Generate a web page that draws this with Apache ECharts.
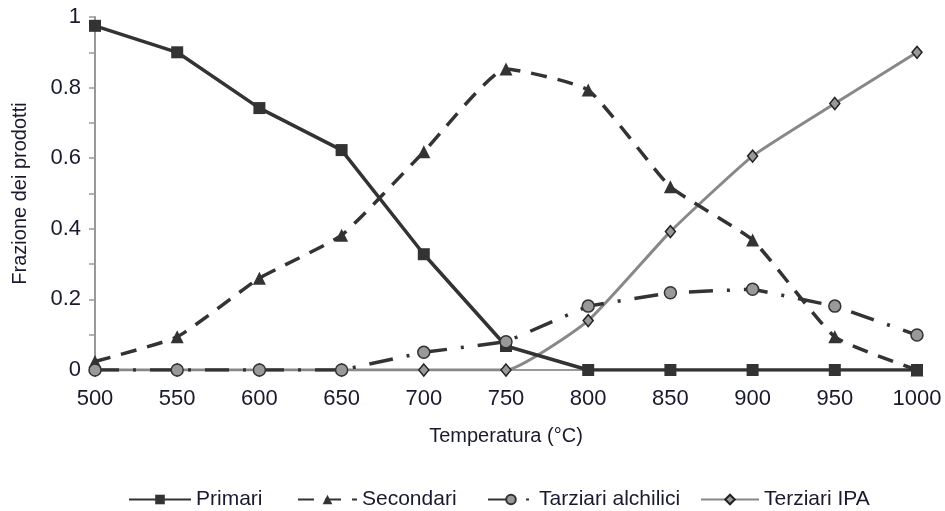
<!DOCTYPE html>
<html><head><meta charset="utf-8">
<script src="https://cdn.jsdelivr.net/npm/echarts@6/dist/echarts.min.js"></script>
<style>html,body{margin:0;padding:0;background:#fff}#c{width:945px;height:511px}</style>
</head><body><div id="c"></div>
<script>
const temps = [500,550,600,650,700,750,800,850,900,950,1000];
const primari = [0.975,0.9,0.742,0.623,0.328,0.068,0,0,0,0,0];
const secondari = [0.024,0.094,0.26,0.382,0.618,0.853,0.793,0.519,0.368,0.094,0];
const alchilici = [0,0,0,0,0.05,0.08,0.181,0.219,0.229,0.181,0.099];
const ipa = [0,0,0,0,0,0,0.14,0.392,0.606,0.755,0.9];
const seriesNames = ['Primari','Secondari','Tarziari alchilici','Terziari IPA'];

const pair = arr => temps.map((t,i)=>[t,arr[i]]);
const chart = echarts.init(document.getElementById('c'));
const font = 'Liberation Sans, Arial, sans-serif';
const lab = '#1a1a2e';
function leg(name,left,w){
  return {data:[name],left:left,top:489,itemWidth:w,itemHeight:12,padding:0,
    textStyle:{fontSize:21,color:lab,fontFamily:font}};
}
chart.setOption({
  animation:false,
  textStyle:{fontFamily:font},
  grid:{left:95,right:28,top:17,bottom:141},
  legend:[leg(seriesNames[0],128,62),leg(seriesNames[1],297,59),leg(seriesNames[2],487,46),leg(seriesNames[3],700,58)],
  xAxis:{
    type:'value',min:500,max:1000,interval:50,
    name:'Temperatura (°C)',nameLocation:'middle',nameGap:56,
    nameTextStyle:{fontSize:20,color:lab},
    axisLine:{lineStyle:{color:'#999',width:2}},
    axisTick:{show:false},
    splitLine:{show:false},
    axisLabel:{fontSize:22,color:lab,margin:18,formatter:v=>String(v)}
  },
  yAxis:{
    type:'value',min:0,max:1,interval:0.2,
    name:'Frazione dei prodotti',nameLocation:'middle',nameGap:65,
    nameTextStyle:{fontSize:20,color:lab},
    axisLine:{show:true,lineStyle:{color:'#999',width:2}},
    axisTick:{show:true,inside:false,length:6,lineStyle:{color:'#999',width:1.5}},
    minorTick:{show:true,splitNumber:2,length:6,lineStyle:{color:'#999',width:1.5}},
    splitLine:{show:false},
    axisLabel:{fontSize:22,color:lab,margin:14,formatter:v=>String(+v.toFixed(1))}
  },
  series:[
    {name:'Terziari IPA',type:'line',data:pair(ipa),smooth:0.15,symbol:'diamond',symbolSize:[10,12],z:2,
     lineStyle:{color:'#888',width:3},itemStyle:{color:'#999',borderColor:'#222',borderWidth:1.5}},
    {name:'Secondari',type:'line',data:pair(secondari),smooth:0.15,symbol:'triangle',symbolSize:13,z:3,
     lineStyle:{color:'#333',width:3.5,type:[16,11]},itemStyle:{color:'#333'}},
    {name:'Primari',type:'line',data:pair(primari),symbol:'rect',symbolSize:12,z:4,
     lineStyle:{color:'#333',width:3.5},itemStyle:{color:'#333'}},
    {name:'Tarziari alchilici',type:'line',data:pair(alchilici),symbol:'circle',symbolSize:12,z:5,
     lineStyle:{color:'#333',width:3.5,type:[24,14,3,14]},itemStyle:{color:'#999',borderColor:'#333',borderWidth:1.5}}
  ]
});
</script></body></html>
